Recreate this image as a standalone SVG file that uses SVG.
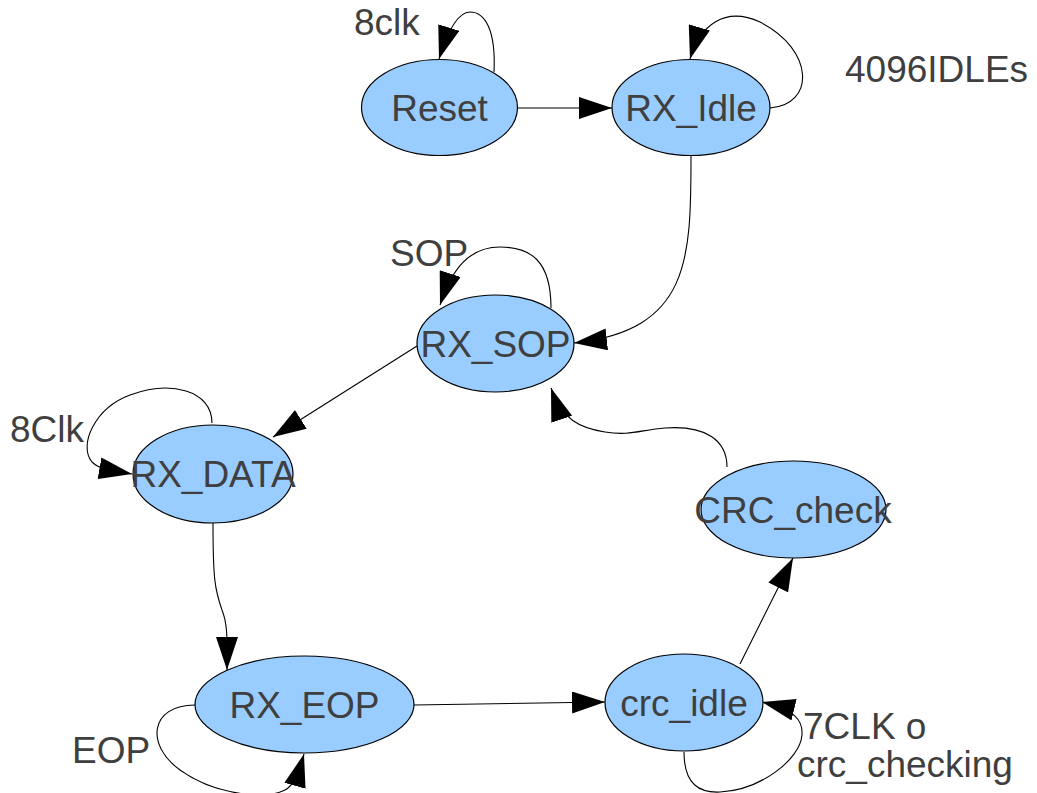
<svg xmlns="http://www.w3.org/2000/svg" width="1037" height="793" viewBox="0 0 1037 793">
<style>
.node ellipse{fill:#99ccff;stroke:#000;stroke-width:1.2}
text{font-family:"Liberation Sans",Arial,sans-serif;font-size:37px;fill:#3f3f3f}
.c{text-anchor:middle}
.edge{fill:none;stroke:#000;stroke-width:1.1;marker-end:url(#ah)}
</style>
<defs>
<marker id="ah" viewBox="0 0 33 22" refX="33" refY="11" markerWidth="33" markerHeight="22" markerUnits="userSpaceOnUse" orient="auto">
<path d="M0,0 L33,11 L0,22 z" fill="#000"/>
</marker>
</defs>
<rect width="1037" height="793" fill="#fff"/>
<g id="connectors">
<path class="edge" d="M494,72 C496,30 485,12 470,12 C458,12 448,30 439,59"/>
<path class="edge" d="M518,108 L612,108"/>
<path class="edge" d="M770,108 C815,105 815,50 760,22 C725,6 700,25 690,59"/>
<path class="edge" d="M691,156 C691,260 690,330 574,343"/>
<path class="edge" d="M551,308 C551,260 530,247 500,247 C470,247 452,268 440,305"/>
<path class="edge" d="M417,346 L273,437"/>
<path class="edge" d="M212,423 C212,390 170,380 130,395 C95,408 78,445 92,462 C100,470 115,471 132,474"/>
<path class="edge" d="M213,523 C213,580 215,590 222,610 C228,625 227,640 227,670"/>
<path class="edge" d="M195,705 C150,705 145,745 180,770 C215,795 265,800 285,790 C293,786 298,775 304,754"/>
<path class="edge" d="M414,705 L605,702"/>
<path class="edge" d="M684,752 C684,785 700,793 720,792 C760,790 800,760 802,735 C803,720 795,710 762,702"/>
<path class="edge" d="M740,664 L793,558"/>
<path class="edge" d="M727,467 C727,440 705,425 665,428 C640,430 630,436 605,432 C580,428 562,420 551,388"/>
</g>
<g id="labels">
<text x="354" y="35">8clk</text>
<text x="845" y="82">4096IDLEs</text>
<text x="390" y="266">SOP</text>
<text x="10" y="442">8Clk</text>
<text x="72" y="763">EOP</text>
<text x="803" y="739">7CLK o</text>
<text x="797" y="777">crc_checking</text>
</g>
<g id="node-reset" class="node"><ellipse cx="439.5" cy="107.5" rx="78" ry="48"/><text class="c" x="439.5" y="121">Reset</text></g>
<g id="node-rx-idle" class="node"><ellipse cx="691" cy="107.5" rx="79" ry="48"/><text class="c" x="691" y="121">RX_Idle</text></g>
<g id="node-rx-sop" class="node"><ellipse cx="495.5" cy="343.5" rx="78.5" ry="48.5"/><text class="c" x="495.5" y="357">RX_SOP</text></g>
<g id="node-rx-data" class="node"><ellipse cx="213" cy="474" rx="80" ry="49"/><text class="c" x="213" y="487">RX_DATA</text></g>
<g id="node-rx-eop" class="node"><ellipse cx="304.5" cy="704.5" rx="109.5" ry="48.5"/><text class="c" x="304.5" y="718">RX_EOP</text></g>
<g id="node-crc-idle" class="node"><ellipse cx="684" cy="702.5" rx="79" ry="48.5"/><text class="c" x="684" y="716">crc_idle</text></g>
<g id="node-crc-check" class="node"><ellipse cx="793.5" cy="509.5" rx="92.5" ry="48.5"/><text class="c" x="793" y="523">CRC_check</text></g>
</svg>
